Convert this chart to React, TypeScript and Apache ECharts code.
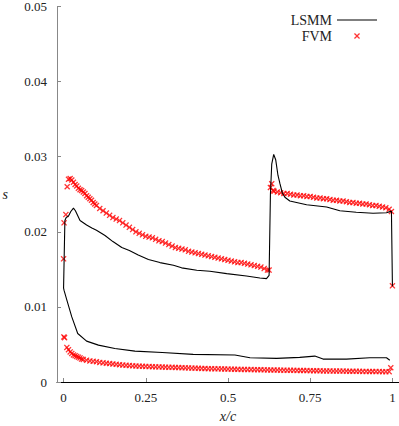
import React, { useEffect, useRef } from "react";
import * as echarts from "echarts";

// LSMM curve: lower surface (trailing edge -> leading edge), then upper surface (leading edge -> trailing edge)
const lsmm: [number, number][] = [
  [0.992, 0.0029], [0.982, 0.00323], [0.931, 0.00323], [0.86, 0.00305], [0.789, 0.00305],
  [0.764, 0.00345], [0.718, 0.00328], [0.648, 0.00315], [0.567, 0.00323], [0.521, 0.00359],
  [0.394, 0.00368], [0.3, 0.00392], [0.217, 0.00411], [0.156, 0.00447], [0.106, 0.00491],
  [0.07, 0.00544], [0.043, 0.00646], [0.025, 0.00867], [0.01, 0.0109], [0.0015, 0.0122],
  [0.0, 0.0125], [0.004, 0.0215], [0.008, 0.0219], [0.015, 0.0221], [0.022, 0.0227],
  [0.03, 0.02315], [0.036, 0.0228], [0.05, 0.0215], [0.07, 0.0209], [0.086, 0.0205],
  [0.1, 0.0202], [0.126, 0.0195], [0.15, 0.0187], [0.177, 0.0179], [0.2, 0.0175],
  [0.227, 0.0169], [0.258, 0.0163], [0.293, 0.0159], [0.334, 0.01554], [0.359, 0.0152],
  [0.405, 0.01487], [0.445, 0.01474], [0.496, 0.01443], [0.556, 0.01412], [0.597, 0.01385],
  [0.617, 0.01377], [0.625, 0.0142], [0.629, 0.025], [0.633, 0.029], [0.639, 0.0303],
  [0.645, 0.0296], [0.652, 0.0275], [0.658, 0.0264], [0.665, 0.0252], [0.673, 0.0246],
  [0.688, 0.0241], [0.739, 0.0236], [0.8, 0.0233], [0.84, 0.0228], [0.89, 0.0226],
  [0.941, 0.02248], [0.982, 0.02254], [0.997, 0.02275], [1.0, 0.01275],
];

// FVM upper surface
const fvmUpper: [number, number][] = [
  [0.0, 0.0164], [0.0015, 0.0212], [0.007, 0.0223], [0.011, 0.026], [0.015, 0.027],
  [0.02, 0.0271], [0.025, 0.0269], [0.03, 0.0266], [0.035, 0.0263], [0.04, 0.0261],
  [0.045, 0.0258], [0.05, 0.0256], [0.055, 0.0255], [0.06, 0.0253], [0.065, 0.0251],
  [0.07, 0.0248], [0.075, 0.0246], [0.08, 0.0244], [0.085, 0.0242], [0.09, 0.0239],
  [0.095, 0.0237], [0.1, 0.0235], [0.11, 0.0231], [0.12, 0.0228], [0.13, 0.0225],
  [0.14, 0.0222], [0.15, 0.0219], [0.16, 0.0217], [0.17, 0.0215], [0.18, 0.0212],
  [0.19, 0.0209], [0.2, 0.0206], [0.21, 0.0203], [0.22, 0.02], [0.23, 0.0198],
  [0.24, 0.0196], [0.25, 0.0194], [0.26, 0.0193], [0.27, 0.0192], [0.28, 0.019],
  [0.29, 0.0188], [0.3, 0.0187], [0.31, 0.0185], [0.32, 0.0183], [0.33, 0.0181],
  [0.34, 0.0179], [0.35, 0.0178], [0.36, 0.0177], [0.37, 0.0176], [0.38, 0.0174],
  [0.39, 0.0173], [0.4, 0.0172], [0.41, 0.0171], [0.42, 0.017], [0.43, 0.0169],
  [0.44, 0.0168], [0.45, 0.0167], [0.46, 0.0166], [0.47, 0.0165], [0.48, 0.0164],
  [0.49, 0.0163], [0.5, 0.0162], [0.51, 0.0161], [0.52, 0.016], [0.53, 0.0159],
  [0.54, 0.0159], [0.55, 0.0158], [0.56, 0.0157], [0.57, 0.0156], [0.58, 0.0155],
  [0.59, 0.0154], [0.6, 0.0153], [0.61, 0.0151], [0.62, 0.0149], [0.625, 0.0149],
  [0.629, 0.0259], [0.633, 0.0264], [0.637, 0.0255], [0.64, 0.0254], [0.65, 0.0253],
  [0.66, 0.0252], [0.67, 0.0251], [0.68, 0.0251], [0.69, 0.025], [0.7, 0.0249],
  [0.71, 0.0249], [0.72, 0.0248], [0.73, 0.0248], [0.74, 0.0247], [0.75, 0.0247],
  [0.76, 0.0246], [0.77, 0.0245], [0.78, 0.0245], [0.79, 0.0244], [0.8, 0.0244],
  [0.81, 0.0243], [0.82, 0.0242], [0.83, 0.0242], [0.84, 0.0241], [0.85, 0.0241],
  [0.86, 0.024], [0.87, 0.0239], [0.88, 0.0239], [0.89, 0.0238], [0.9, 0.0238],
  [0.91, 0.0237], [0.92, 0.0237], [0.93, 0.0236], [0.94, 0.0235], [0.95, 0.0235],
  [0.96, 0.0234], [0.97, 0.0233], [0.98, 0.0232], [0.99, 0.023], [0.997, 0.0227],
  [1.0, 0.0128],
];

// FVM lower surface
const fvmLower: [number, number][] = [
  [0.001, 0.006], [0.003, 0.0059], [0.01, 0.0046], [0.015, 0.0043], [0.02, 0.004],
  [0.025, 0.0038], [0.03, 0.0036], [0.035, 0.0035], [0.04, 0.0034], [0.045, 0.0033],
  [0.05, 0.0032], [0.055, 0.00305], [0.06, 0.003], [0.07, 0.0029], [0.08, 0.0028],
  [0.09, 0.00275], [0.1, 0.0027], [0.11, 0.0026], [0.12, 0.00255], [0.13, 0.0025],
  [0.14, 0.00245], [0.15, 0.0024], [0.16, 0.00235], [0.17, 0.0023], [0.18, 0.00226],
  [0.19, 0.00222], [0.2, 0.00219], [0.21, 0.00216], [0.22, 0.00213], [0.23, 0.00211],
  [0.24, 0.0021], [0.25, 0.00208], [0.26, 0.00205], [0.27, 0.00203], [0.28, 0.00202],
  [0.29, 0.00201], [0.3, 0.002], [0.31, 0.00198], [0.32, 0.00196], [0.33, 0.00195],
  [0.34, 0.00193], [0.35, 0.00192], [0.36, 0.0019], [0.37, 0.00189], [0.38, 0.00187],
  [0.39, 0.00186], [0.4, 0.00184], [0.41, 0.00183], [0.42, 0.00181], [0.43, 0.0018],
  [0.44, 0.00178], [0.45, 0.00177], [0.46, 0.00176], [0.47, 0.00175], [0.48, 0.00174],
  [0.49, 0.00173], [0.5, 0.00172], [0.51, 0.00171], [0.52, 0.0017], [0.53, 0.00169],
  [0.54, 0.00168], [0.55, 0.00167], [0.56, 0.00166], [0.57, 0.00165], [0.58, 0.00164],
  [0.59, 0.00164], [0.6, 0.00163], [0.61, 0.00162], [0.62, 0.00161], [0.63, 0.0016],
  [0.64, 0.0016], [0.65, 0.00159], [0.66, 0.00158], [0.67, 0.00157], [0.68, 0.00156],
  [0.69, 0.00156], [0.7, 0.00155], [0.71, 0.00154], [0.72, 0.00153], [0.73, 0.00153],
  [0.74, 0.00152], [0.75, 0.00151], [0.76, 0.0015], [0.77, 0.0015], [0.78, 0.00149],
  [0.79, 0.00148], [0.8, 0.00148], [0.81, 0.00147], [0.82, 0.00146], [0.83, 0.00146],
  [0.84, 0.00145], [0.85, 0.00145], [0.86, 0.00144], [0.87, 0.00143], [0.88, 0.00143],
  [0.89, 0.00142], [0.9, 0.00142], [0.91, 0.00141], [0.92, 0.00141], [0.93, 0.0014],
  [0.94, 0.0014], [0.95, 0.00139], [0.96, 0.00139], [0.97, 0.00138], [0.98, 0.00138],
  [0.99, 0.00137], [0.995, 0.0019],
];

const xTicks = [0, 0.25, 0.5, 0.75, 1];
const xTickLabels = ["0", "0.25", "0.5", "0.75", "1"];

const CROSS = "path://M0,1.5L1.5,0L5,3.5L8.5,0L10,1.5L6.5,5L10,8.5L8.5,10L5,6.5L1.5,10L0,8.5L3.5,5Z";
const LINE_ICON = "path://M0,0L40,0L40,1.2L0,1.2Z";
const FONT = "'Liberation Serif', 'DejaVu Serif', serif";
const TEXT = "#222";
const FS = 14;
const TICK_FS = 13;

export default function App() {
  const ref = useRef<HTMLDivElement>(null);
  useEffect(() => {
    if (!ref.current) return;
    const chart = echarts.init(ref.current, undefined, { renderer: "svg" });
    chart.setOption({
      animation: false,
      textStyle: { fontFamily: FONT },
      grid: {
        left: 57,
        right: 0,
        top: 6.5,
        bottom: 44,
        containLabel: false,
        outerBoundsMode: "none",
      },
      legend: {
        orient: "vertical",
        align: "right",
        right: 17,
        top: 8,
        itemWidth: 40,
        itemHeight: 6,
        itemGap: 2,
        textStyle: { fontFamily: FONT, fontSize: FS, lineHeight: 13, color: TEXT },
        data: [
          { name: "LSMM", icon: LINE_ICON },
          { name: "FVM", icon: CROSS },
        ],
      },
      xAxis: {
        type: "value",
        min: -0.02,
        max: 1.02,
        name: "x/c",
        nameLocation: "middle",
        nameGap: 27,
        nameTextStyle: { fontFamily: FONT, fontSize: FS, fontStyle: "italic", color: TEXT },
        axisLine: { show: true, onZero: false, lineStyle: { color: "#000", width: 1 } },
        axisTick: { show: true, inside: true, length: 4, lineStyle: { color: "#888" }, customValues: xTicks },
        axisLabel: {
          customValues: xTicks,
          margin: 9,
          fontFamily: FONT,
          fontSize: TICK_FS,
          color: TEXT,
          showMaxLabel: true,
          formatter: (v: number) => xTickLabels[xTicks.indexOf(v)] ?? String(v),
        },
        splitLine: { show: false },
      },
      yAxis: {
        type: "value",
        min: 0,
        max: 0.05,
        interval: 0.01,
        name: "s",
        nameLocation: "middle",
        nameRotate: 0,
        nameGap: 49,
        nameTextStyle: { fontFamily: FONT, fontSize: FS, fontStyle: "italic", color: TEXT },
        axisLine: { show: true, onZero: false, lineStyle: { color: "#888", width: 1 } },
        axisTick: { show: true, inside: true, length: 4, lineStyle: { color: "#888" } },
        axisLabel: { margin: 10, fontFamily: FONT, fontSize: TICK_FS, color: TEXT, showMaxLabel: true },
        splitLine: { show: false },
      },
      series: [
        {
          name: "LSMM",
          type: "line",
          data: lsmm,
          showSymbol: false,
          symbol: "none",
          lineStyle: { color: "#000", width: 1.1 },
          itemStyle: { color: "#000" },
          z: 3,
        },
        {
          name: "FVM",
          type: "scatter",
          data: fvmUpper,
          symbol: CROSS,
          symbolSize: 6,
          itemStyle: { color: "#ff0000" },
          z: 2,
        },
        {
          name: "FVM",
          type: "scatter",
          data: fvmLower,
          symbol: CROSS,
          symbolSize: 6,
          itemStyle: { color: "#ff0000" },
          z: 2,
        },
      ],
    });
    return () => chart.dispose();
  }, []);
  return (
    <div
      ref={ref}
      style={{ position: "absolute", left: 0, top: 0, width: 399, height: 426 }}
    />
  );
}
